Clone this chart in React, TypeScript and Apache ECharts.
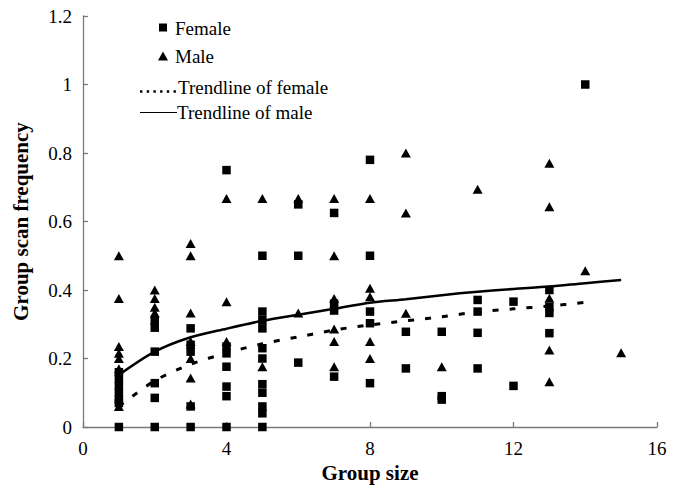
import React, { useEffect, useRef } from "react";
import * as echarts from "echarts";

// ---- Data ----
const femaleGroupSize = [
  1, 1, 1, 1, 1, 1, 1,
  2, 2, 2, 2, 2, 2,
  3, 3, 3, 3, 3,
  4, 4, 4, 4, 4, 4, 4,
  5, 5, 5, 5, 5, 5, 5, 5, 5, 5, 5,
  6, 6, 6,
  7, 7, 7, 7,
  8, 8, 8, 8, 8,
  9, 9,
  10, 10, 10,
  11, 11, 11, 11,
  12, 12,
  13, 13, 13, 13,
  14,
];
const femaleFrequency = [
  0.16, 0.14, 0.12, 0.1, 0.08, 0.07, 0,
  0.31, 0.29, 0.22, 0.128, 0.085, 0,
  0.288, 0.24, 0.22, 0.06, 0,
  0.75, 0.235, 0.215, 0.176, 0.118, 0.09, 0,
  0.5, 0.337, 0.312, 0.288, 0.23, 0.2, 0.125, 0.1, 0.06, 0.04, 0,
  0.65, 0.5, 0.188,
  0.625, 0.36, 0.34, 0.147,
  0.78, 0.5, 0.337, 0.303, 0.128,
  0.278, 0.171,
  0.278, 0.09, 0.08,
  0.371, 0.337, 0.275, 0.171,
  0.366, 0.12,
  0.4, 0.35, 0.333, 0.274,
  1.0,
];

const maleGroupSize = [
  1, 1, 1, 1, 1, 1, 1,
  2, 2, 2, 2,
  3, 3, 3, 3, 3, 3, 3,
  4, 4, 4,
  5, 5,
  6, 6,
  7, 7, 7, 7, 7, 7,
  8, 8, 8, 8, 8,
  9, 9, 9,
  10,
  11,
  13, 13, 13, 13, 13,
  14,
  15,
];
const maleFrequency = [
  0.5, 0.375, 0.235, 0.215, 0.2, 0.17, 0.06,
  0.4, 0.375, 0.35, 0.333,
  0.536, 0.5, 0.333, 0.25, 0.2, 0.143, 0.067,
  0.667, 0.366, 0.25,
  0.667, 0.176,
  0.667, 0.333,
  0.667, 0.5, 0.375, 0.286, 0.25, 0.176,
  0.667, 0.405, 0.38, 0.25, 0.2,
  0.8, 0.625, 0.332,
  0.176,
  0.694,
  0.77, 0.643, 0.376, 0.225, 0.132,
  0.456,
  0.217,
];

const femaleTrendSize = [1, 2, 3, 4, 5, 6, 7, 8, 9, 10, 11, 12, 13, 14];
const femaleTrendValue = [0.06, 0.135, 0.183, 0.216, 0.243, 0.263, 0.283, 0.298, 0.31, 0.322, 0.336, 0.345, 0.353, 0.364];

const maleTrendSize = [1, 2, 3, 4, 5, 6, 7, 8, 9, 10, 11, 12, 13, 14, 15];
const maleTrendValue = [0.152, 0.22, 0.262, 0.287, 0.31, 0.328, 0.345, 0.363, 0.373, 0.385, 0.395, 0.403, 0.41, 0.42, 0.429];

const xTicks = { min: 0, max: 16, interval: 4 };
const yTicks = { min: 0, max: 1.2, interval: 0.2 };

const legendLabels = ["Female", "Male", "Trendline of female", "Trendline of male"];

const FONT = "Liberation Serif";

export default function App() {
  const ref = useRef<HTMLDivElement>(null);

  useEffect(() => {
    if (!ref.current) return;
    const chart = echarts.init(ref.current, undefined, { renderer: "svg" });

    const pair = (xs: number[], ys: number[]) => xs.map((x, i) => [x, ys[i]]);

    const axisLineStyle = { color: "#7a7a7a", width: 1.3 };
    const legendText = (text: string, x: number, y: number) => ({
      type: "text",
      x,
      y,
      style: { text, fontFamily: FONT, fontSize: 19, fill: "#000", verticalAlign: "middle" },
    });

    chart.setOption({
      animation: false,
      backgroundColor: "#ffffff",
      grid: { left: 83, right: 29, top: 16, bottom: 63, containLabel: false },
      xAxis: {
        type: "value",
        min: xTicks.min,
        max: xTicks.max,
        interval: xTicks.interval,
        name: "Group size",
        nameLocation: "middle",
        nameGap: 35,
        nameTextStyle: { fontFamily: FONT, fontSize: 21, fontWeight: "bold", color: "#000" },
        axisLine: { show: true, lineStyle: axisLineStyle },
        axisTick: { show: true, inside: true, length: 5, lineStyle: axisLineStyle },
        axisLabel: { fontFamily: FONT, fontSize: 19, color: "#000", margin: 12 },
        splitLine: { show: false },
      },
      yAxis: {
        type: "value",
        min: yTicks.min,
        max: yTicks.max,
        interval: yTicks.interval,
        name: "Group scan frequency",
        nameLocation: "middle",
        nameGap: 52,
        nameTextStyle: { fontFamily: FONT, fontSize: 21, fontWeight: "bold", color: "#000" },
        axisLine: { show: true, lineStyle: axisLineStyle },
        axisTick: { show: true, inside: true, length: 5, lineStyle: axisLineStyle },
        axisLabel: { fontFamily: FONT, fontSize: 19, color: "#000", margin: 11 },
        splitLine: { show: false },
      },
      series: [
        {
          name: legendLabels[2],
          type: "line",
          data: pair(femaleTrendSize, femaleTrendValue),
          smooth: 0.3,
          symbol: "none",
          lineStyle: { color: "#000", width: 3, type: [6, 11] },
          z: 3,
        },
        {
          name: legendLabels[3],
          type: "line",
          data: pair(maleTrendSize, maleTrendValue),
          smooth: 0.3,
          symbol: "none",
          lineStyle: { color: "#000", width: 2.5, type: "solid" },
          z: 3,
        },
        {
          name: legendLabels[0],
          type: "scatter",
          data: pair(femaleGroupSize, femaleFrequency),
          symbol: "rect",
          symbolSize: 8.5,
          itemStyle: { color: "#000", opacity: 1 },
          z: 4,
        },
        {
          name: legendLabels[1],
          type: "scatter",
          data: pair(maleGroupSize, maleFrequency),
          symbol: "triangle",
          symbolSize: [10, 9],
          itemStyle: { color: "#000", opacity: 1 },
          z: 4,
        },
      ],
      graphic: [
        { type: "rect", shape: { x: 159, y: 23.5, width: 8, height: 8 }, style: { fill: "#000" } },
        legendText(legendLabels[0], 175, 28),
        { type: "polygon", shape: { points: [[163, 51.5], [168, 60.5], [158, 60.5]] }, style: { fill: "#000" } },
        legendText(legendLabels[1], 175, 56),
        {
          type: "line",
          shape: { x1: 140, y1: 91.5, x2: 178, y2: 91.5 },
          style: { stroke: "#000", lineWidth: 2.5, lineDash: [2.4, 4.3] },
        },
        legendText(legendLabels[2], 178, 87.5),
        { type: "line", shape: { x1: 140, y1: 112.5, x2: 177, y2: 112.5 }, style: { stroke: "#000", lineWidth: 1 } },
        legendText(legendLabels[3], 177, 112),
      ],
    });

    return () => chart.dispose();
  }, []);

  return (
    <div
      ref={ref}
      style={{ position: "fixed", left: 0, top: 0, width: 686, height: 490, background: "#fff" }}
    />
  );
}
